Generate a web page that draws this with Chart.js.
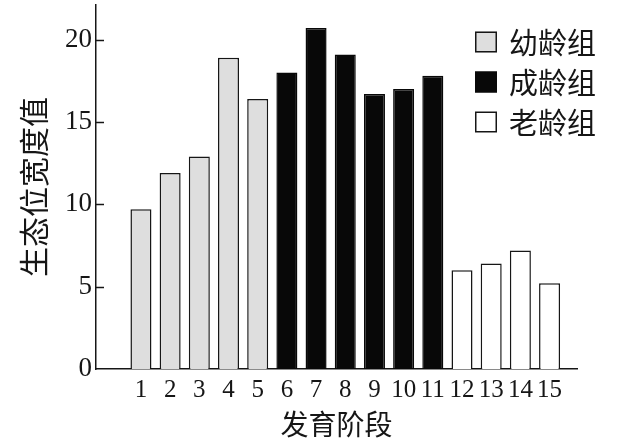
<!DOCTYPE html>
<html>
<head>
<meta charset="utf-8">
<script src="https://cdn.jsdelivr.net/npm/chart.js@4/dist/chart.umd.min.js"></script>
<style>
html,body{margin:0;padding:0;background:#fff;}
#wrap{width:619px;height:438px;position:relative;}
</style>
</head>
<body>
<div id="wrap"><canvas id="c" width="619" height="438"></canvas></div>
<script>
// ---- data ----
const stages = ['1','2','3','4','5','6','7','8','9','10','11','12','13','14','15'];
const juvenileStages = ['1','2','3','4','5'];
const juvenileValues = [9.7, 11.9, 12.9, 18.9, 16.4];
const adultStages = ['6','7','8','9','10','11'];
const adultValues = [18.0, 20.7, 19.1, 16.7, 17.0, 17.8];
const oldStages = ['12','13','14','15'];
const oldValues = [6.0, 6.4, 7.2, 5.2];
const seriesNames = ['幼龄组', '成龄组', '老龄组'];
const yTickValues = [0, 5, 10, 15, 20];
const xTitle = '发育阶段';
const yTitle = '生态位宽度值';

// ---- helpers ----
const toPoints = (cats, vals) => cats.map((c, i) => ({x: Number(c), y: vals[i]}));
const INK = '#161616';
const numFont = 'Liberation Serif, Times New Roman, serif';
const cjkFont = 'Noto Sans CJK SC, sans-serif';

const innerTicks = {
  id: 'innerTicks',
  afterDatasetsDraw(chart) {
    const ctx = chart.ctx, y = chart.scales.y, x0 = chart.chartArea.left;
    ctx.save();
    ctx.strokeStyle = INK; ctx.lineWidth = 1.5;
    yTickValues.forEach(v => {
      if (v === 0) return;
      const py = Math.round(y.getPixelForValue(v)) + 0.5;
      ctx.beginPath(); ctx.moveTo(x0, py); ctx.lineTo(x0 + 8, py); ctx.stroke();
    });
    ctx.restore();
  }
};

const boxLegend = {
  id: 'boxLegend',
  afterDraw(chart) {
    const ctx = chart.ctx;
    const bx = 475, bw = 22, bh = 21, tx = 509;
    const rowY = [42, 82, 122];
    ctx.save();
    chart.data.datasets.forEach((ds, i) => {
      const cy = rowY[i];
      ctx.fillStyle = ds.backgroundColor;
      ctx.fillRect(bx, cy - bh / 2, bw, bh);
      ctx.strokeStyle = ds.borderColor; ctx.lineWidth = 1.5;
      ctx.strokeRect(bx + 0.75, cy - bh / 2 + 0.75, bw - 1.5, bh - 1.5);
      ctx.fillStyle = INK;
      ctx.font = '29px ' + cjkFont;
      ctx.textBaseline = 'middle';
      ctx.textAlign = 'left';
      ctx.fillText(ds.label, tx, cy + 1);
    });
    ctx.restore();
  }
};

new Chart(document.getElementById('c'), {
  type: 'bar',
  data: {
    datasets: [
      {label: seriesNames[0], data: toPoints(juvenileStages, juvenileValues),
       backgroundColor: '#dedede', borderColor: INK, borderWidth: 1.5},
      {label: seriesNames[1], data: toPoints(adultStages, adultValues),
       backgroundColor: '#080808', borderColor: '#080808', borderWidth: 1.5},
      {label: seriesNames[2], data: toPoints(oldStages, oldValues),
       backgroundColor: '#ffffff', borderColor: INK, borderWidth: 1.5}
    ]
  },
  options: {
    responsive: false,
    animation: false,
    devicePixelRatio: 1,
    datasets: {bar: {grouped: false, categoryPercentage: 1, barPercentage: 0.72, borderSkipped: 'bottom'}},
    layout: {padding: {top: 5, right: 42, left: 0, bottom: 0}},
    plugins: {legend: {display: false}, tooltip: {enabled: false}},
    scales: {
      x: {
        type: 'linear',
        offset: false,
        bounds: 'data',
        min: -0.54, max: 15.94,
        grid: {display: false, drawTicks: false, offset: false},
        border: {display: true, color: INK, width: 1.5},
        afterBuildTicks(scale) { scale.ticks = stages.map(s => ({value: Number(s)})); },
        ticks: {
          autoSkip: false, maxRotation: 0,
          color: INK, padding: 6,
          font: {family: numFont, size: 25, lineHeight: 1.2},
          callback: v => String(v)
        },
        title: {display: true, text: xTitle, color: INK,
                font: {family: cjkFont, size: 28, lineHeight: 1}, padding: {top: 0, bottom: 0}},
        afterFit(scale) { scale.height = 69; scale.paddingLeft = 0; scale.paddingRight = 0; }
      },
      y: {
        min: 0, max: 22.1,
        grid: {display: false, drawTicks: false},
        border: {display: true, color: INK, width: 1.5},
        afterBuildTicks(scale) { scale.ticks = yTickValues.map(v => ({value: v})); },
        ticks: {color: INK, padding: 4, font: {family: numFont, size: 27}},
        title: {display: true, text: yTitle, color: INK,
                font: {family: cjkFont, size: 30, lineHeight: 1}, padding: {top: 19, bottom: 0}},
        afterFit(scale) { scale.width = 96; scale.paddingTop = 0; scale.paddingBottom = 0; }
      }
    }
  },
  plugins: [innerTicks, boxLegend]
});
</script>
</body>
</html>
